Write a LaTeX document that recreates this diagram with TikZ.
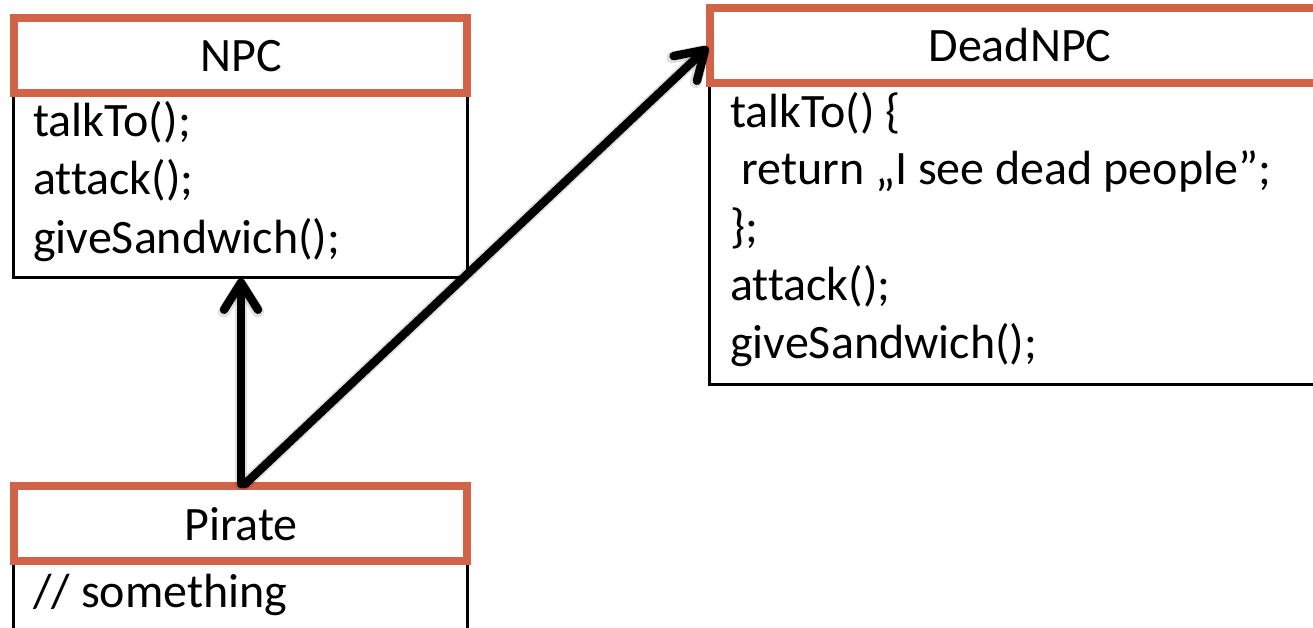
\documentclass[tikz,border=0pt]{standalone}
\usepackage{fontspec}
\setmainfont{Carlito}[Ligatures=NoCommon]
\usetikzlibrary{arrows.meta}
\definecolor{hdr}{RGB}{209,99,73}
\tikzset{
  header/.style={rectangle, draw=hdr, line width=8pt, fill=white, inner sep=0pt},
  classbody/.style={rectangle, draw=black, line width=3pt, fill=white, inner sep=0pt},
  title/.style={anchor=base, inner sep=0pt, font=\fontsize{48}{58}\selectfont},
  member/.style={anchor=base west, inner sep=0pt, font=\fontsize{48}{58}\selectfont},
  link/.style={line width=8.5pt, line cap=round, line join=round,
    -{Straight Barb[length=27pt, width=34pt, round]}},
  linkshadow/.style={link, draw=black, opacity=0.12, line width=12pt}
}
\begin{document}
\begin{tikzpicture}[x=1pt, y=-1pt]
  \useasboundingbox (0,0) rectangle (1313,628);
  \clip (0,0) rectangle (1313,628);

  % NPC class
  \node[classbody, minimum width=454pt, minimum height=184pt] (npcbody) at (240,185) {};
  \node[header, minimum width=453pt, minimum height=75pt] (npchead) at (240.5,55.5) {};
  \node[title] (npctitle) at (241,72) {NPC};
  \node[member] (npcm1) at (33,137) {talkTo();};
  \node[member] (npcm2) at (33,195) {attack();};
  \node[member] (npcm3) at (33,253) {giveSandwich();};

  % DeadNPC class (runs past the right edge)
  \node[classbody, minimum width=621pt, minimum height=301pt] (deadbody) at (1019.5,233.5) {};
  \node[header, minimum width=620pt, minimum height=75pt] (deadhead) at (1020,45.5) {};
  \node[title] (deadtitle) at (1020,62) {DeadNPC};
  \node[member] (deadm1) at (730,128) {talkTo() \{};
  \node[member] (deadm2) at (741,185) {return „I see dead people”;};
  \node[member] (deadm3) at (730,243) {\};};
  \node[member] (deadm4) at (730,300) {attack();};
  \node[member] (deadm5) at (730,358) {giveSandwich();};

  % Pirate class (runs past the bottom edge)
  \node[classbody, minimum width=454pt, minimum height=99pt] (piratebody) at (240,610.5) {};
  \node[header, minimum width=453pt, minimum height=75pt] (piratehead) at (240.5,523.5) {};
  \node[title] (piratetitle) at (241,540) {Pirate};
  \node[member] (piratem1) at (33,607) {// something};

  % Inheritance arrows from Pirate
  \coordinate (up) at (241,484);
  \coordinate (diag) at (245,484);
  \coordinate (npcend) at (up |- npcbody.south);
  \coordinate (deadend) at (708,47);

  \begin{scope}[shift={(2.5,3.5)}]
    \draw[linkshadow] (up) -- (npcend);
    \draw[linkshadow] (diag) -- (deadend);
  \end{scope}
  \draw[link] (up) -- (npcend);
  \draw[link] (diag) -- (deadend);
\end{tikzpicture}
\end{document}
